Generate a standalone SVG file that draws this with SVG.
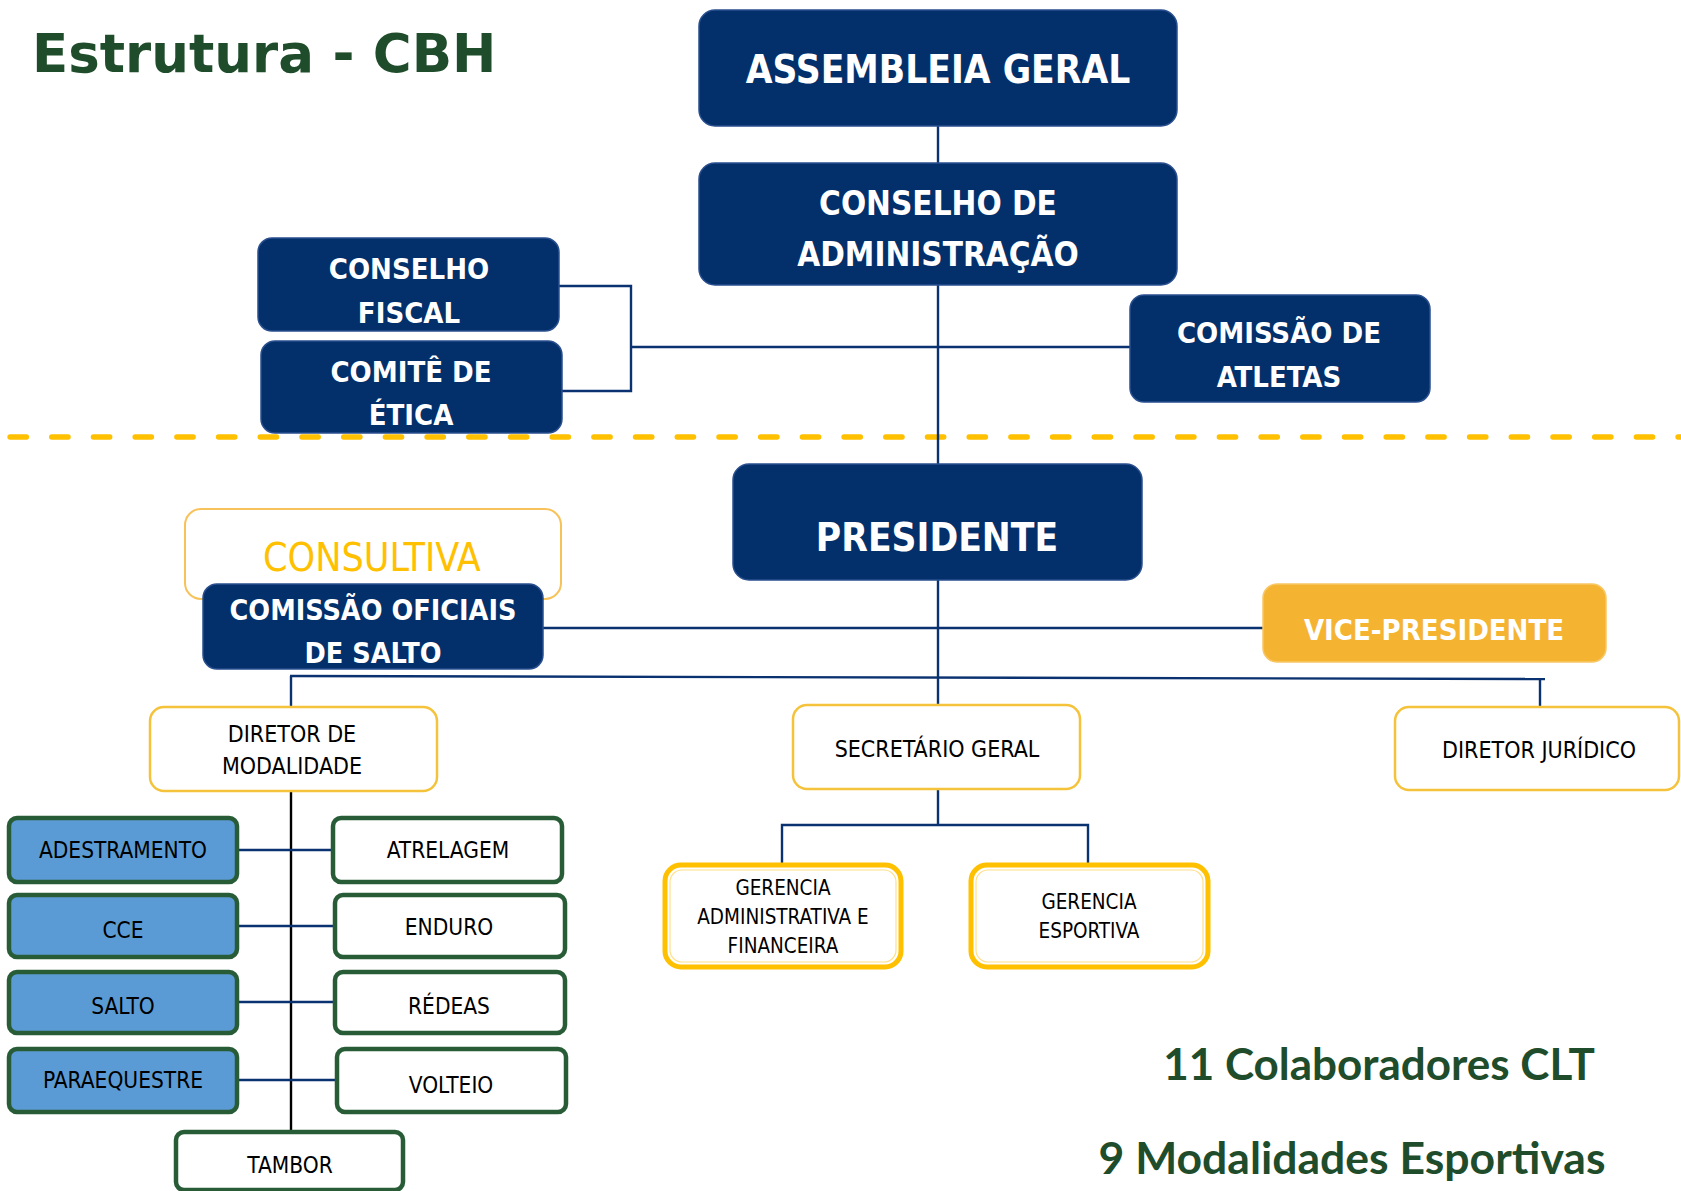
<svg xmlns="http://www.w3.org/2000/svg" width="1681" height="1191" viewBox="0 0 1681 1191">
<style>
.navy{fill:#03306b;stroke:#2a4f8f;stroke-width:1.5}
.tw{fill:#ffffff;font-family:"DejaVu Sans Condensed","DejaVu Sans",sans-serif;font-weight:bold;text-anchor:middle;font-stretch:condensed}
.tk{fill:#000000;font-family:"DejaVu Sans Condensed","DejaVu Sans",sans-serif;text-anchor:middle;font-stretch:condensed}
.ybox{fill:#ffffff;stroke:#f5c33b;stroke-width:2.5}
.mblue{fill:#5b9bd5;stroke:#285c37;stroke-width:4.5}
.mwhite{fill:#ffffff;stroke:#285c37;stroke-width:4.5}
.conn{fill:none;stroke:#0b3270;stroke-width:2.4}
.connk{fill:none;stroke:#000000;stroke-width:2.4}
.green{fill:#1f4d2b;font-weight:bold}
</style>
<rect width="1681" height="1191" fill="#ffffff"/>
<text x="32" y="72" class="green" font-family="DejaVu Sans, Verdana, sans-serif" font-size="53">Estrutura - CBH</text>
<line x1="10" y1="437" x2="1681" y2="437" stroke="#ffc000" stroke-width="5.3" stroke-linecap="round" stroke-dasharray="16.4 25.3"/>
<g id="connectors">
<line class="conn" x1="938" y1="126" x2="938" y2="163"/>
<line class="conn" x1="938" y1="285" x2="938" y2="464"/>
<polyline class="conn" points="559,286 631,286 631,391 562,391"/>
<line class="conn" x1="631" y1="347" x2="1130" y2="347"/>
<line class="conn" x1="938" y1="580" x2="938" y2="705"/>
<line class="conn" x1="543" y1="628" x2="1263" y2="628"/>
<line class="conn" x1="290" y1="676" x2="1545" y2="679"/>
<line class="conn" x1="1540" y1="679" x2="1540" y2="707"/>
<line class="conn" x1="291" y1="676" x2="291" y2="707"/>
<line class="connk" x1="291" y1="791" x2="291" y2="1132"/>
<line class="conn" x1="237" y1="850" x2="333" y2="850"/>
<line class="conn" x1="237" y1="926" x2="335" y2="926"/>
<line class="conn" x1="237" y1="1002" x2="335" y2="1002"/>
<line class="conn" x1="237" y1="1080" x2="337" y2="1080"/>
<line class="conn" x1="938" y1="789" x2="938" y2="825"/>
<polyline class="conn" points="782,865 782,825 1088,825 1088,865"/>
</g>
<g id="assembleia-geral"><rect class="navy" x="699" y="10" width="478" height="116" rx="16"/><text class="tw" x="938" y="83" font-size="38.5">ASSEMBLEIA GERAL</text></g>
<g id="conselho-administracao"><rect class="navy" x="699" y="163" width="478" height="122" rx="16"/><text class="tw" x="938" y="215" font-size="33">CONSELHO DE</text><text class="tw" x="938" y="266" font-size="33">ADMINISTRAÇÃO</text></g>
<g id="conselho-fiscal"><rect class="navy" x="258" y="238" width="301" height="93" rx="14"/><text class="tw" x="409" y="279" font-size="29">CONSELHO</text><text class="tw" x="409" y="323" font-size="29">FISCAL</text></g>
<g id="comite-etica"><rect class="navy" x="261" y="341" width="301" height="92" rx="14"/><text class="tw" x="411" y="382" font-size="29">COMITÊ DE</text><text class="tw" x="411" y="425" font-size="29">ÉTICA</text></g>
<g id="comissao-atletas"><rect class="navy" x="1130" y="295" width="300" height="107" rx="14"/><text class="tw" x="1279" y="343" font-size="29">COMISSÃO DE</text><text class="tw" x="1279" y="387" font-size="29">ATLETAS</text></g>
<g id="presidente"><rect class="navy" x="733" y="464" width="409" height="116" rx="16"/><text class="tw" x="937" y="551" font-size="38.5">PRESIDENTE</text></g>
<g id="consultiva"><rect x="185" y="509" width="376" height="90" rx="16" fill="#ffffff" stroke="#f8c25a" stroke-width="2"/><text x="372" y="571" font-family="DejaVu Sans Condensed, DejaVu Sans, sans-serif" font-stretch="condensed" font-size="39" fill="#ffc000" text-anchor="middle">CONSULTIVA</text></g>
<g id="comissao-oficiais-salto"><rect class="navy" x="203" y="584" width="340" height="85" rx="14"/><text class="tw" x="373" y="620" font-size="28.5">COMISSÃO OFICIAIS</text><text class="tw" x="373" y="663" font-size="28.5">DE SALTO</text></g>
<g id="vice-presidente"><rect x="1263" y="584" width="343" height="78" rx="14" fill="#f5b332" stroke="#f8c766" stroke-width="1.5"/><text class="tw" x="1434" y="640" font-size="29">VICE-PRESIDENTE</text></g>
<g id="diretor-modalidade"><rect class="ybox" x="150" y="707" width="287" height="84" rx="14"/><text class="tk" x="292" y="742" font-size="23">DIRETOR DE</text><text class="tk" x="292" y="774" font-size="23">MODALIDADE</text></g>
<g id="secretario-geral"><rect class="ybox" x="793" y="705" width="287" height="84" rx="14"/><text class="tk" x="937" y="757" font-size="23">SECRETÁRIO GERAL</text></g>
<g id="diretor-juridico"><rect class="ybox" x="1395" y="707" width="284" height="83" rx="14"/><text class="tk" x="1539" y="758" font-size="23">DIRETOR JURÍDICO</text></g>
<g id="gerencia-administrativa"><rect x="665" y="865" width="236" height="102" rx="16" fill="#ffffff" stroke="#ffc000" stroke-width="5"/><rect x="670" y="870" width="226" height="92" rx="12" fill="none" stroke="#ffe08a" stroke-width="1.2"/><text class="tk" x="783" y="895" font-size="20.5">GERENCIA</text><text class="tk" x="783" y="924" font-size="20.5">ADMINISTRATIVA E</text><text class="tk" x="783" y="953" font-size="20.5">FINANCEIRA</text></g>
<g id="gerencia-esportiva"><rect x="971" y="865" width="237" height="102" rx="16" fill="#ffffff" stroke="#ffc000" stroke-width="5"/><rect x="976" y="870" width="227" height="92" rx="12" fill="none" stroke="#ffe08a" stroke-width="1.2"/><text class="tk" x="1089" y="909" font-size="20.5">GERENCIA</text><text class="tk" x="1089" y="938" font-size="20.5">ESPORTIVA</text></g>
<g id="adestramento"><rect class="mblue" x="9" y="818" width="228" height="64" rx="8"/><text class="tk" x="123" y="858" font-size="22.5">ADESTRAMENTO</text></g>
<g id="atrelagem"><rect class="mwhite" x="333" y="818" width="229" height="64" rx="8"/><text class="tk" x="448" y="858" font-size="22.5">ATRELAGEM</text></g>
<g id="cce"><rect class="mblue" x="9" y="895" width="228" height="62" rx="8"/><text class="tk" x="123" y="938" font-size="22.5">CCE</text></g>
<g id="enduro"><rect class="mwhite" x="335" y="895" width="230" height="62" rx="8"/><text class="tk" x="449" y="935" font-size="22.5">ENDURO</text></g>
<g id="salto"><rect class="mblue" x="9" y="972" width="228" height="61" rx="8"/><text class="tk" x="123" y="1014" font-size="22.5">SALTO</text></g>
<g id="redeas"><rect class="mwhite" x="335" y="972" width="230" height="61" rx="8"/><text class="tk" x="449" y="1014" font-size="22.5">RÉDEAS</text></g>
<g id="paraequestre"><rect class="mblue" x="9" y="1049" width="228" height="63" rx="8"/><text class="tk" x="123" y="1088" font-size="22.5">PARAEQUESTRE</text></g>
<g id="volteio"><rect class="mwhite" x="337" y="1049" width="229" height="63" rx="8"/><text class="tk" x="451" y="1093" font-size="22.5">VOLTEIO</text></g>
<g id="tambor"><rect class="mwhite" x="176" y="1132" width="227" height="58" rx="8"/><text class="tk" x="290" y="1173" font-size="22.5">TAMBOR</text></g>
<text x="1379" y="1080" class="green" font-family="Lato, Open Sans, sans-serif" font-size="44" text-anchor="middle">11 Colaboradores CLT</text>
<text x="1352" y="1174" class="green" font-family="Lato, Open Sans, sans-serif" font-size="44.5" text-anchor="middle">9 Modalidades Esportivas</text>
</svg>
